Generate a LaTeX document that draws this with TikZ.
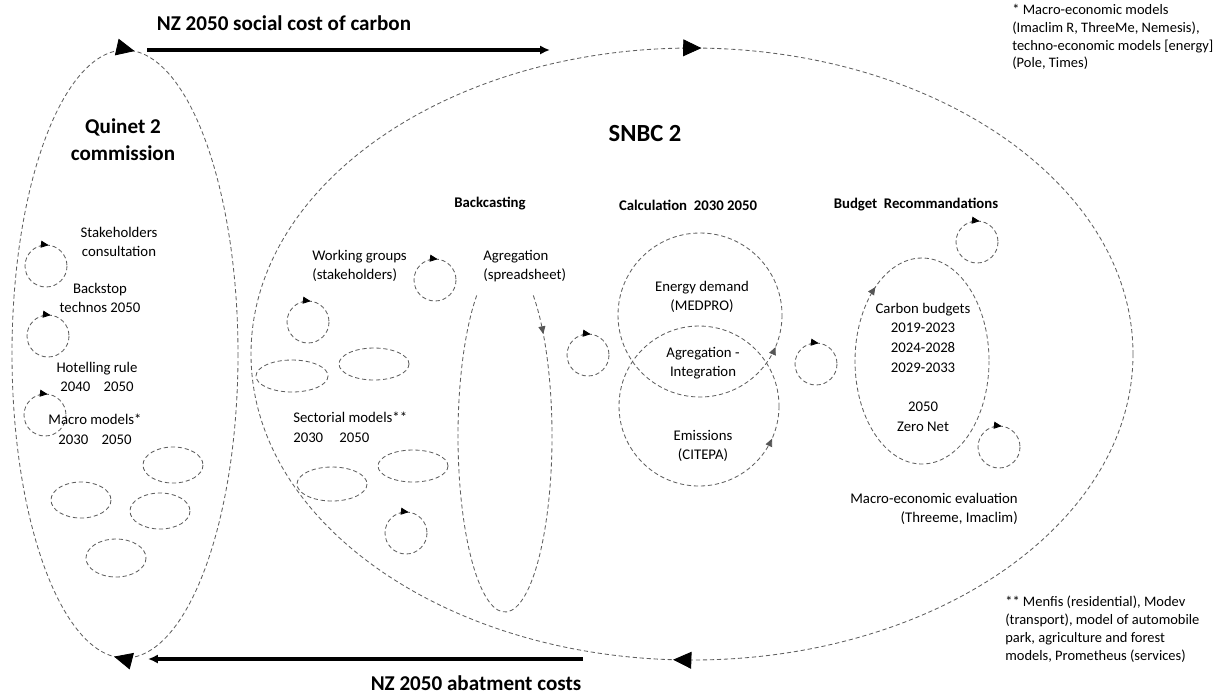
\documentclass[tikz,border=0pt]{standalone}
\usepackage{fontspec}
\setmainfont{Carlito}
\usetikzlibrary{arrows.meta, calc, decorations.markings}
\definecolor{dashgray}{RGB}{95,95,95}
\definecolor{tipgray}{RGB}{85,85,85}

\begin{document}
\begin{tikzpicture}[x=0.025cm, y=-0.025cm,
	txt/.style={font=\fontsize{10.5}{14}\selectfont, align=center, inner sep=0pt},
	head/.style={font=\fontsize{10.5}{14}\selectfont\bfseries, inner sep=0pt},
	title/.style={font=\fontsize{15}{19}\selectfont\bfseries, align=center, inner sep=0pt},
	note/.style={font=\fontsize{10.3}{12.6}\selectfont, align=left, inner sep=0pt},
	dline/.style={dashgray, line width=0.6pt, dash pattern=on 3pt off 2pt},
	flow/.style={-{Latex[length=7pt,width=6.5pt]}, line width=2.3pt},
	% bottom mark first, top mark second (positions must increase)
	bigtips/.style 2 args={postaction={decorate}, decoration={markings,
		mark=at position #1 with {\arrow[black]{Triangle[length=13pt,width=12pt]}},
		mark=at position #2 with {\arrow[black]{Triangle[length=13pt,width=12pt]}}}},
	looptip/.style={postaction={decorate}, decoration={markings,
		mark=at position 0.77 with {\arrow[black]{Triangle[length=5.5pt,width=5pt]}}}},
	graytip/.style={postaction={decorate}, decoration={markings,
		mark=at position #1 with {\arrow[tipgray]{Triangle[length=5.5pt,width=5pt]}}}},
	graytipr/.style={postaction={decorate}, decoration={markings,
		mark=at position #1 with {\arrowreversed[tipgray]{Triangle[length=5.5pt,width=5pt]}}}}
	]
	\useasboundingbox (0,0) rectangle (1220,693);

	\coordinate (Q)   at (125,354);
	\coordinate (S)   at (692,354);
	\coordinate (Agg) at (505,436);
	\coordinate (En)  at (700,315);
	\coordinate (Em)  at (699,406);
	\coordinate (Bud) at (922,361);

	\coordinate (scc-a) at (147,50);
	\coordinate (scc-b) at (550,50);
	\coordinate (abc-a) at (583,659);
	\coordinate (abc-b) at (148,659);

	% the two big cycles
	\draw[dline, bigtips={0.258}{0.757}] (Q) ellipse[x radius=113, y radius=304];
	\draw[dline, bigtips={0.258}{0.754}] (S) ellipse[x radius=441, y radius=306];

	\draw[flow] (scc-a) -- (scc-b);
	\draw[flow] (abc-a) -- (abc-b);

	\node[title, anchor=base] (scc) at (284,30) {NZ 2050 social cost of carbon};
	\node[title, anchor=base] (abc) at (476,690) {NZ 2050 abatment costs};
	\node[title] (quinet) at (123,140) {Quinet 2\\commission};
	\node[font=\fontsize{17.5}{20}\selectfont\bfseries, inner sep=0pt] (snbc) at (645,134) {SNBC 2};

	% Quinet side
	\foreach \p in {(46,266),(48,336),(45,415)}
		\draw[dline, looptip] \p circle[radius=21];
	\node[txt] (stake) at (119,242) {Stakeholders\\consultation};
	\node[txt] (backstop) at (100,298) {Backstop\\technos 2050};
	\node[txt] (hotel) at (97,377) {Hotelling rule\\2040\hspace{0.9em}2050};
	\node[txt] (macro) at (95,429) {Macro models*\\2030\hspace{0.9em}2050};
	\draw[dline] (173,465) ellipse[x radius=30, y radius=18];
	\draw[dline] (81,500)  ellipse[x radius=30, y radius=18];
	\draw[dline] (160,511) ellipse[x radius=30, y radius=18];
	\draw[dline] (116,558) ellipse[x radius=30, y radius=19];

	% backcasting
	\node[head] (backc) at (490,204) {Backcasting};
	\node[txt, align=left, anchor=west] (wgroups) at (312,266) {Working groups\\(stakeholders)};
	\node[txt, align=left, anchor=west] (aggsheet) at (483,266) {Agregation\\(spreadsheet)};
	\node[txt, align=left, anchor=west] (sector) at (293,427) {Sectorial models**\\2030\hspace{1.1em}2050};
	\foreach \p in {(435,280),(308,322),(406,533)}
		\draw[dline, looptip] \p circle[radius=21];
	\draw[dline] (292,376) ellipse[x radius=36, y radius=16];
	\draw[dline] (374,364) ellipse[x radius=35, y radius=16];
	\draw[dline] (413,466) ellipse[x radius=35, y radius=16];
	\draw[dline] (332,484) ellipse[x radius=35, y radius=17];
	\draw[dline, graytip=0.06] (Agg) ++(-53:47 and 176)
		arc[start angle=-53, end angle=233, x radius=47, y radius=176];

	% calculation
	\node[head] (calc) at (688,205) {Calculation\ \ 2030 2050};
	\foreach \p in {(588,355),(816,364)}
		\draw[dline, looptip] \p circle[radius=21];
	\draw[dline, graytipr=0.064] (En) circle[radius=82];
	\draw[dline, graytipr=0.067] (Em) circle[radius=80];
	\node[txt] (energy) at (702,297) {Energy demand\\(MEDPRO)};
	\node[txt] (integ) at (703,363) {Agregation -\\Integration};
	\node[txt] (emis) at (703,446) {Emissions\\(CITEPA)};

	% budgets
	\node[head] (budget) at (916,205) {Budget\ \ Recommandations};
	\foreach \p in {(977,242),(999,447)}
		\draw[dline, looptip] \p circle[radius=21];
	\draw[dline, graytip=0.644] (Bud) ellipse[x radius=67, y radius=103];
	\node[txt] (carbon) at (923,367) {Carbon budgets\\2019-2023\\2024-2028\\2029-2033\\[14pt]2050\\Zero Net};
	\node[txt, align=right, anchor=east] (maceval) at (1018,509) {Macro-economic evaluation\\(Threeme, Imaclim)};

	% footnotes
	\node[note, anchor=north west] (note1) at (1012,4) {* Macro-economic models\\(Imaclim R, ThreeMe, Nemesis),\\techno-economic models [energy]\\(Pole, Times)};
	\node[note, anchor=north west] (note2) at (1005,596) {** Menfis (residential), Modev\\(transport), model of automobile\\park, agriculture and forest\\models, Prometheus (services)};
\end{tikzpicture}
\end{document}
